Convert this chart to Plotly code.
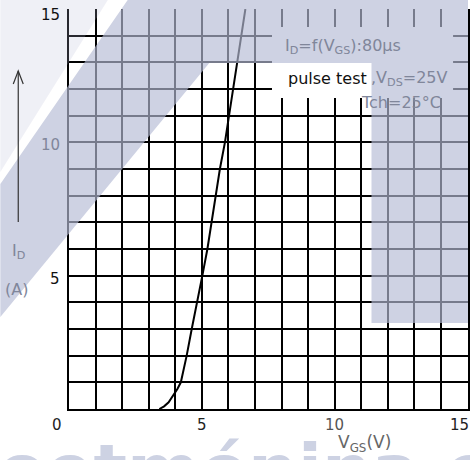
import plotly.graph_objects as go

# ---- data ----
vgs = [3.40, 3.58, 3.75, 3.92, 4.08, 4.21, 4.43, 4.62, 4.83, 5.02,
       5.21, 5.37, 5.52, 5.68, 5.87, 6.02, 6.17, 6.33, 6.48, 6.64]
id_a = [0.0, 0.1, 0.25, 0.5, 0.75, 1.0, 2.0, 3.0, 4.0, 5.0,
        6.0, 7.0, 8.0, 9.0, 10.0, 11.0, 12.0, 13.0, 14.0, 15.0]

x_ticks = [5, 10, 15]
x_tick_labels = ["5", "10", "15"]
y_ticks = [5, 10, 15]
y_tick_labels = ["5", "10", "15"]

# ---- layout geometry (pixels) ----
W, H = 470, 460
L, R, T, B = 69, 0, 9, 51
PW = W - L - R
PH = H - T - B


def px(x):
    return (x - L) / PW


def py(y):
    return (H - B - y) / PH


def poly(points):
    s = "M " + " L ".join(f"{px(a):.4f},{py(b):.4f}" for a, b in points) + " Z"
    return s


fig = go.Figure()
fig.add_trace(go.Scatter(x=vgs, y=id_a, mode="lines",
                         line=dict(color="black", width=2),
                         hoverinfo="skip", showlegend=False))

tint = "rgba(180,186,212,0.66)"
shapes = [
    # blank label box (grid-free) of the original sheet
    dict(type="rect", x0=px(273), x1=px(455), y0=py(98), y1=py(27),
         xref="paper", yref="paper", fillcolor="white",
         line=dict(width=0), layer="above"),
    # upper-left light corner
    dict(type="path", path=poly([(0, 0), (108, 0), (0, 172)]),
         xref="paper", yref="paper", fillcolor="rgba(180,186,212,0.22)",
         line=dict(width=0), layer="above"),
    # main watermark band + top + right block
    dict(type="path", path=poly([(128, 0), (470, 0), (470, 323), (373, 323),
                                 (373, 63), (210, 63), (0, 317), (0, 184)]),
         xref="paper", yref="paper", fillcolor=tint,
         line=dict(width=0), layer="above"),
    # y-axis arrow shaft and head
    dict(type="line", x0=px(18), x1=px(18), y0=py(222), y1=py(71),
         xref="paper", yref="paper", line=dict(color="#333", width=1.2),
         layer="above"),
    dict(type="path", path=f"M {px(13):.4f},{py(84):.4f} L {px(18):.4f},{py(71):.4f} L {px(23):.4f},{py(84):.4f}",
         xref="paper", yref="paper", line=dict(color="#333", width=1.2),
         layer="above"),
]

font = "DejaVu Sans"
gray = "#80869a"
ann = []

# bottom watermark letters (only tops visible) - drawn first, under labels
ann.append(dict(x=px(-4), y=py(427), xref="paper", yref="paper",
                text="<b>oetmónina.co</b>", showarrow=False,
                xanchor="left", yanchor="top",
                font=dict(family="DejaVu Sans", size=70, color="#cdd2e3")))


def add_text(xp, yp, text, color, size=15, xanchor="center", **kw):
    ann.append(dict(x=px(xp), y=py(yp), xref="paper", yref="paper",
                    text=text, showarrow=False, xanchor=xanchor,
                    yanchor="middle",
                    font=dict(family=font, size=size, color=color), **kw))


# axis tick labels
tick_colors_y = ["#111", gray, "#111"]
for v, lab, c in zip(y_ticks, y_tick_labels, tick_colors_y):
    ann.append(dict(x=px(62), y=v, xref="paper", yref="y", text=lab,
                    showarrow=False, xanchor="right", yanchor="middle",
                    yshift=-6 if v == 15 else -3,
                    font=dict(family=font, size=15, color=c)))
tick_colors_x = ["#222", "#555", "#222"]
for v, lab, c in zip(x_ticks, x_tick_labels, tick_colors_x):
    ann.append(dict(x=v, y=py(425), xref="x", yref="paper", text=lab,
                    showarrow=False, xanchor="center", yanchor="middle",
                    xshift=-8 if v == 15 else 0,
                    font=dict(family=font, size=15, color=c)))
add_text(57, 425, "0", "#222")

# axis titles
add_text(366, 444, "V<sub>GS</sub>(V)", "#666", size=17)
add_text(18, 252, "I<sub>D</sub>", gray, size=16)
add_text(16, 289, "(A)", gray, size=16)

# conditions text
add_text(284, 46, "I<sub>D</sub>=f(V<sub>GS</sub>):80µs", gray, size=16,
         xanchor="left")
add_text(371, 78, "pulse test", "#111", size=16, xanchor="right")
add_text(371, 78, ",V<sub>DS</sub>=25V", gray, size=16, xanchor="left")
add_text(360, 102, "Tch=25°C", gray, size=16, xanchor="left")

fig.update_layout(
    width=W, height=H,
    margin=dict(l=L, r=R, t=T, b=B),
    paper_bgcolor="white", plot_bgcolor="white",
    shapes=shapes, annotations=ann,
    xaxis=dict(range=[0, 15.02], dtick=1, tick0=0, showgrid=True,
               gridcolor="black", gridwidth=1.6, showticklabels=False,
               zeroline=False, showline=True, linecolor="black", linewidth=1.6,
               ticks="", fixedrange=True),
    yaxis=dict(range=[0, 15], dtick=1, tick0=0, showgrid=True,
               gridcolor="black", gridwidth=1.6, showticklabels=False,
               zeroline=False, showline=True, linecolor="black", linewidth=1.6,
               mirror=True, ticks="", fixedrange=True),
)

fig.write_html("out.html")
